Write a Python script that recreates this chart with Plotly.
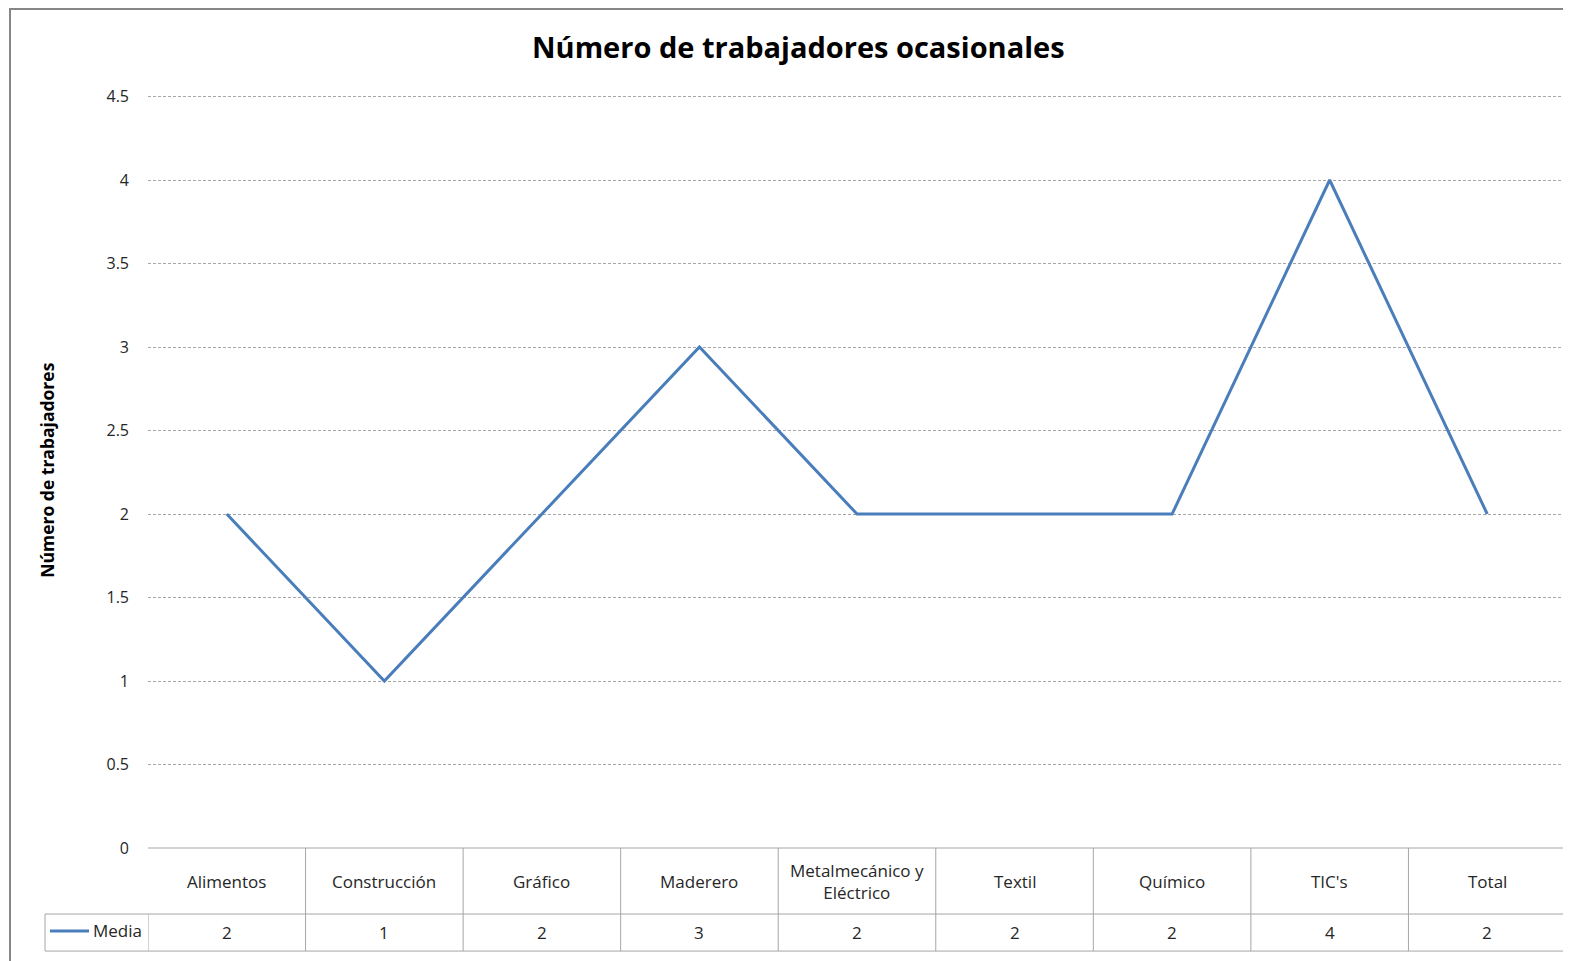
import plotly.graph_objects as go

categories = ["Alimentos", "Construcción", "Gráfico", "Maderero", "Metalmecánico y<br>Eléctrico",
              "Textil", "Químico", "TIC's", "Total"]
media = [2, 1, 2, 3, 2, 2, 2, 4, 2]
series_name = "Media"
title = "Número de trabajadores ocasionales"
y_title = "Número de trabajadores"
y_ticks = [0, 0.5, 1, 1.5, 2, 2.5, 3, 3.5, 4, 4.5]

FONT = "Open Sans, sans-serif"
LINE = "#4a7ebb"
OFF = 8  # default page body margin
YMAX = 4.515
unit = (848 - 97) / 4.5
W, H = 1571 - OFF, 961 - OFF
L = 148 - OFF
T = 97 - OFF - (YMAX - 4.5) * unit
B = H - (848 - OFF)
R = W - (1566 - OFF)
pw, ph = W - L - R, H - T - B

def px_x(x):
    return (x - OFF - L) / pw

def px_y(y):
    return (H - B - (y - OFF)) / ph

n = len(categories)
fig = go.Figure()
fig.add_trace(go.Scatter(x=list(range(n)), y=media, mode="lines", name=series_name,
                         line=dict(color=LINE, width=3), showlegend=False))

shapes = []
ann = []
grid = "#a6a6a6"
tbl = "#a6a6a6"
y_hdr = px_y(914)
y_val = px_y(951)
shapes.append(dict(type="line", xref="paper", yref="paper", x0=0, x1=1, y0=0, y1=0, line=dict(color=tbl, width=1)))
shapes.append(dict(type="line", xref="paper", yref="paper", x0=px_x(45), x1=1, y0=y_hdr, y1=y_hdr, line=dict(color=tbl, width=1)))
shapes.append(dict(type="line", xref="paper", yref="paper", x0=px_x(45), x1=1, y0=y_val, y1=y_val, line=dict(color=tbl, width=1)))
shapes.append(dict(type="line", xref="paper", yref="paper", x0=px_x(45), x1=px_x(45), y0=y_hdr, y1=y_val, line=dict(color=tbl, width=1)))
for i in range(n + 1):
    xb = i - 0.5
    y0 = 0 if i > 0 else y_hdr
    shapes.append(dict(type="line", xref="x", yref="paper", x0=xb, x1=xb, y0=y0, y1=y_val, line=dict(color=tbl, width=1)))
# legend key
shapes.append(dict(type="line", xref="paper", yref="paper", x0=px_x(50), x1=px_x(89), y0=px_y(931), y1=px_y(931),
                   line=dict(color=LINE, width=3)))
# outer chart border
shapes.append(dict(type="rect", xref="paper", yref="paper", x0=px_x(10), x1=px_x(1590), y0=px_y(9.5), y1=px_y(990),
                   line=dict(color="#868686", width=2), fillcolor="rgba(0,0,0,0)", layer="below"))

for i, (c, v) in enumerate(zip(categories, media)):
    ann.append(dict(x=i, xref="x", y=px_y(881), yref="paper", text=c, showarrow=False,
                    font=dict(family=FONT, size=17, color="#262626"), yanchor="middle"))
    ann.append(dict(x=i, xref="x", y=px_y(932), yref="paper", text=str(v), showarrow=False,
                    font=dict(family=FONT, size=17, color="#262626"), yanchor="middle"))
ann.append(dict(x=px_x(91), xref="paper", y=px_y(930), yref="paper", text=series_name, showarrow=False,
                xanchor="left", yanchor="middle", font=dict(family=FONT, size=17, color="#262626")))
ann.append(dict(x=px_x(798), xref="paper", y=px_y(47), yref="paper", text="<b>" + title + "</b>", showarrow=False,
                xanchor="center", yanchor="middle", font=dict(family=FONT, size=29, color="#000000")))
ann.append(dict(x=px_x(47), xref="paper", y=px_y(471), yref="paper", text="<b>" + y_title + "</b>", showarrow=False,
                textangle=-90, xanchor="center", yanchor="middle", font=dict(family=FONT, size=17.5, color="#000000")))

fig.update_layout(
    width=W, height=H, margin=dict(l=L, r=R, t=T, b=B),
    paper_bgcolor="white", plot_bgcolor="white",
    shapes=shapes, annotations=ann,
    xaxis=dict(range=[-0.5, n - 0.5], showticklabels=False, showgrid=False, zeroline=False, showline=False,
               fixedrange=True),
    yaxis=dict(range=[0, YMAX], tickvals=y_ticks, ticktext=[f"{t:g}" for t in y_ticks], showgrid=True,
               gridcolor=grid, griddash="3px,2px", gridwidth=1, zeroline=False, showline=False,
               tickfont=dict(family=FONT, size=16, color="#262626"), ticklabelstandoff=18),
)
fig.write_html("out.html")
